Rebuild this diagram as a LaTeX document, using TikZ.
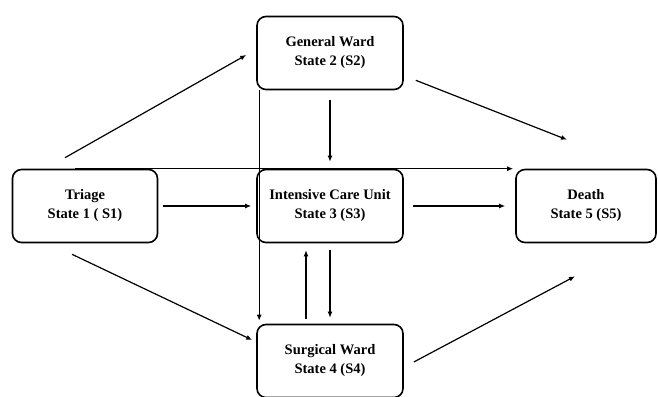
\documentclass[tikz,border=0pt]{standalone}
\usepackage{fontspec}
\setmainfont{Liberation Serif}
\usetikzlibrary{arrows.meta}

\begin{document}
\begin{tikzpicture}[x=1pt, y=-1pt, line width=1.2pt, >={Latex[length=6pt,width=5pt]}]
\tikzstyle{every node}=[draw, rounded corners=9pt, line width=1.6pt, minimum width=146pt, minimum height=73pt, align=center, font=\bfseries\fontsize{14.5}{19}\selectfont];
\useasboundingbox (0,0) rectangle (658,396);
\path (85,206) node[minimum width=145pt] (s1) {Triage\\State 1 ( S1)}
(330,53) node (s2) {General Ward\\State 2 (S2)}
(330,206) node (s3) {Intensive Care Unit\\State 3 (S3)}
(586,206) node[minimum width=140pt] (s5) {Death\\State 5 (S5)}
(330,361) node (s4) {Surgical Ward\\State 4 (S4)};
\draw[->] ([shift={(-20pt,11pt)}]s1.north) -- ([shift={(-10pt,-2pt)}]s2.west);
\draw[->] ([shift={(-13pt,-11pt)}]s1.south) -- ([shift={(-4pt,21pt)}]s4.west);
\draw[->] ([xshift=5pt]s1.east) -- ([xshift=-5pt]s3.west);
\draw[->] ([xshift=-10pt]s1.north) -- ([xshift=-2pt]s1.north -| s5.west);
\draw[->] ([shift={(12pt,10pt)}]s2.south east) -- ([shift={(-19pt,29pt)}]s5.north);
\draw[->] ([yshift=-10pt]s2.south) -- ([yshift=7pt]s3.north);
\draw[->] ([xshift=3pt]s2.south west) -- ([xshift=3pt,yshift=3pt]s4.north west);
\draw[->] ([xshift=9pt]s3.east) -- ([xshift=-10pt]s5.west);
\draw[->] ([shift={(-24pt,5pt)}]s4.north) -- ([shift={(-24pt,-7pt)}]s3.south);
\draw[->] ([yshift=-7pt]s3.south) -- ([yshift=6pt]s4.north);
\draw[->] ([shift={(10pt,-1pt)}]s4.east) -- ([shift={(-11pt,-33pt)}]s5.south);
\end{tikzpicture}
\end{document}
